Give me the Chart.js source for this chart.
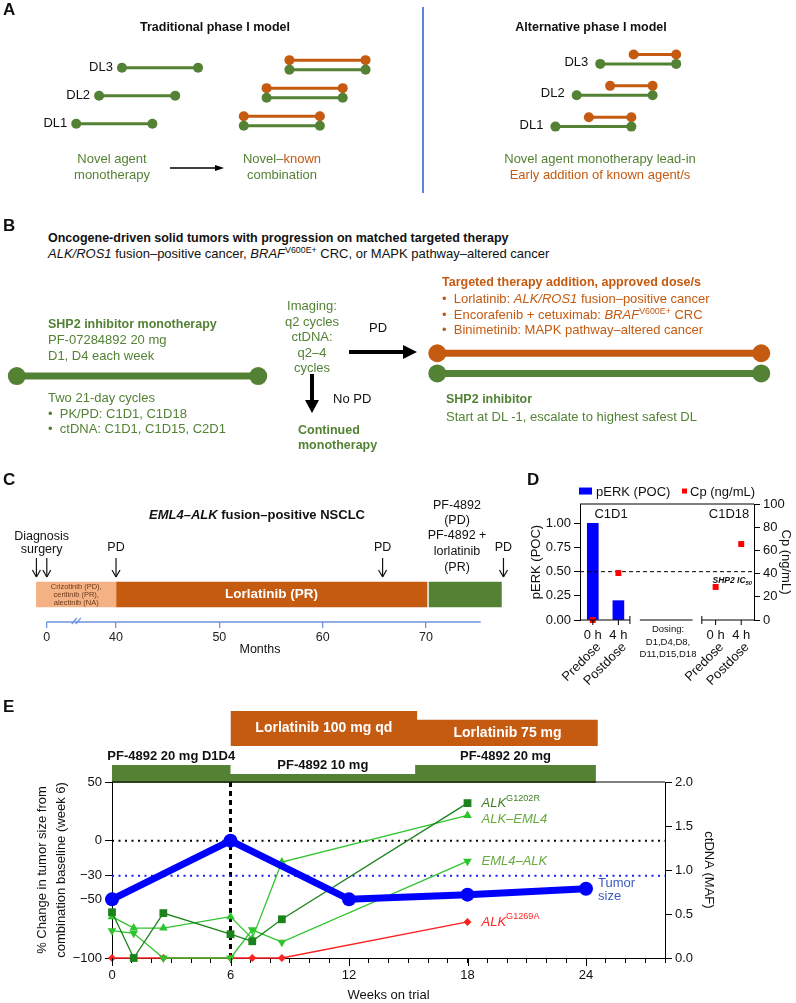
<!DOCTYPE html>
<html>
<head>
<meta charset="utf-8">
<title>SHP2 inhibitor phase I design and case</title>
<script src="https://cdn.jsdelivr.net/npm/chart.js@4.4.1/dist/chart.umd.min.js"></script>
<style>
  body { margin: 0; background: #fff; }
  #page { position: relative; width: 796px; height: 1003px; overflow: hidden; font-family: "Liberation Sans", Arial, sans-serif; color: #111; }
  #page canvas { position: absolute; }
  .t { position: absolute; white-space: nowrap; line-height: 1.15; z-index: 2; }
  .t sup { font-size: 0.68em; vertical-align: 0; position: relative; top: -0.55em; line-height: 0; }
  .t sub { font-size: 0.68em; vertical-align: 0; position: relative; top: 0.3em; line-height: 0; }
</style>
</head>
<body>
<div id="page"></div>
<script>
// ---- A: phase I schematics (x in cycles, y = dose level) ----
const dlLabels = ['DL1', 'DL2', 'DL3'];
const tradMonoStart = [0, 0.3, 0.6];
const tradComboStart = [2.2, 2.5, 2.8];
const altMonoStart = [0, 0.28, 0.59];
const altLeadIn = 0.44;
const cycleSpan = 1;

// ---- B: trial schema (weeks) ----
const monoPhase = [0, 6];
const comboPhase = [10.45, 18.5];

// ---- C: treatment history (months) ----
const histStart = [-6, 40, 70.3];
const histEnd = [40, 70.1, 77.3];
const pdMonths = [40, 65.8, 77.5];
const eventMonths = [-6, 0].concat(pdMonths);
const monthTicks = [0, 40, 50, 60, 70];
const monthAxisEnd = 75.3;

// ---- D: PK / PD ----
const pdTimes = ['0 h', '4 h', '0 h', '4 h'];
const pdDose = ['Predose', 'Postdose', 'Predose', 'Postdose'];
const pdSlots = [0, 1, 4.8, 5.8];
const perk = [1.0, 0.2, null, null];
const cp = [0, 40.5, 28.5, 65.5];
const ic50 = 0.5;

// ---- E: tumour size and ctDNA ----
const tumorWeeks = [0, 6, 12, 18, 24];
const tumorChange = [-50, 0, -50, -46, -41];
const ctWeeks = [0, 1.1, 2.6, 6, 7.1, 8.6, 18];
const g1202r = [0.52, 0.0, 0.51, 0.27, 0.19, 0.44, 1.76];
const alkEml4 = [0.47, 0.34, 0.34, 0.47, 0.22, 1.09, 1.62];
const eml4Alk = [0.31, 0.28, 0.0, 0.0, 0.32, 0.18, 1.10];
const g1269a = [0, 0, 0, 0, 0, 0, 0.41];
const pfStart = [0, 6, 15.35], pfEnd = [6, 15.35, 24.5], pfDose = [20, 10, 20];
const pfLabels = ['PF-4892 20 mg D1D4', 'PF-4892 10 mg', 'PF-4892 20 mg'];
const lorStart = [6, 15.45], lorEnd = [15.45, 24.6], lorDose = [100, 75];
const lorLabels = ['Lorlatinib 100 mg qd', 'Lorlatinib 75 mg'];
const tumorTicks = [50, 0, -30, -50, -100];
const weekLabels = [0, 6, 12, 18, 24];

const FF = '"Liberation Sans", Arial, sans-serif';
const G = '#548235', O = '#c55a11', SALMON = '#f4b183', AXBLUE = '#6f93dc';

Chart.defaults.font.family = FF;
Chart.defaults.font.size = 13;
Chart.defaults.color = '#111';
Chart.defaults.animation = false;
Chart.defaults.responsive = false;
Chart.defaults.events = [];
Chart.defaults.plugins.legend.display = false;
Chart.defaults.plugins.tooltip.enabled = false;

const page = document.getElementById('page');
function mkCanvas(left, top, w, h) {
  const c = document.createElement('canvas');
  c.width = w; c.height = h;
  c.style.left = left + 'px'; c.style.top = top + 'px';
  c.style.width = w + 'px'; c.style.height = h + 'px';
  page.appendChild(c);
  return c;
}
function txt(x, y, html, o = {}) {
  const d = document.createElement('div');
  d.className = 't';
  d.innerHTML = html;
  d.style.left = x + 'px'; d.style.top = y + 'px';
  d.style.fontSize = (o.s || 13) + 'px';
  if (o.b) d.style.fontWeight = 'bold';
  if (o.c) d.style.color = o.c;
  const tx = o.a === 'c' ? '-50%' : o.a === 'r' ? '-100%' : '0';
  d.style.transform = `translate(${tx},-50%)`;
  page.appendChild(d);
}
function line(ctx, x1, y1, x2, y2) {
  ctx.beginPath(); ctx.moveTo(x1, y1); ctx.lineTo(x2, y2); ctx.stroke();
}
function arrow(ctx, x1, y1, x2, y2, lw, hl, hw) {
  const a = Math.atan2(y2 - y1, x2 - x1);
  ctx.save();
  ctx.strokeStyle = '#000'; ctx.fillStyle = '#000'; ctx.lineWidth = lw;
  line(ctx, x1, y1, x2 - hl * 0.8 * Math.cos(a), y2 - hl * 0.8 * Math.sin(a));
  ctx.translate(x2, y2); ctx.rotate(a);
  ctx.beginPath(); ctx.moveTo(0, 0); ctx.lineTo(-hl, -hw / 2); ctx.lineTo(-hl, hw / 2); ctx.closePath(); ctx.fill();
  ctx.restore();
}
function rich(ctx, x, y, parts, size, color) {
  ctx.save();
  ctx.fillStyle = color; ctx.textBaseline = 'middle'; ctx.textAlign = 'left';
  for (const p of parts) {
    const fs = p.sup ? size * 0.7 : size;
    ctx.font = `${p.i ? 'italic ' : ''}${fs}px ${FF}`;
    ctx.fillText(p.t, x, p.sup ? y - size * 0.38 : y);
    x += ctx.measureText(p.t).width;
  }
  ctx.restore();
}
const bell = (x0, x1, y, color, r, w) => ({
  data: [{ x: x0, y }, { x: x1, y }], showLine: true, borderColor: color, backgroundColor: color,
  borderWidth: w, pointRadius: r, pointBorderWidth: 0, clip: false
});
const hidden = (min, max) => ({ type: 'linear', display: false, offset: false, min, max });

// ================= A =================
new Chart(mkCanvas(0, 0, 418, 200), {
  type: 'scatter',
  data: { datasets: [
    ...tradMonoStart.map((s, i) => bell(s, s + cycleSpan, i + 1, G, 5, 3)),
    ...tradComboStart.map((s, i) => bell(s, s + cycleSpan, i + 0.93, G, 5, 3)),
    ...tradComboStart.map((s, i) => bell(s, s + cycleSpan, i + 1.27, O, 5, 3))
  ] },
  options: { scales: { x: hidden(-0.936, 4.423), y: hidden(-1.542, 5.237) } },
  plugins: [{ id: 'a1', afterDraw(c) {
    const ctx = c.ctx, xs = c.scales.x, ys = c.scales.y;
    ctx.save();
    ctx.fillStyle = '#111'; ctx.font = `13px ${FF}`; ctx.textAlign = 'right'; ctx.textBaseline = 'middle';
    dlLabels.forEach((l, i) => ctx.fillText(l, xs.getPixelForValue(tradMonoStart[i]) - 9, ys.getPixelForValue(i + 1)));
    ctx.restore();
    arrow(ctx, 170, 168, 224, 168, 1.3, 9, 6);
  } }]
});
new Chart(mkCanvas(418, 0, 378, 200), {
  type: 'scatter',
  data: { datasets: [
    ...altMonoStart.map((s, i) => bell(s, s + cycleSpan, i + 1, G, 5, 3)),
    ...altMonoStart.map((s, i) => bell(s + altLeadIn, s + cycleSpan, i + 1.3, O, 5, 3))
  ] },
  options: { scales: { x: hidden(-1.744, 3.102), y: hidden(-1.182, 4.879) } },
  plugins: [{ id: 'a2', afterDraw(c) {
    const ctx = c.ctx, xs = c.scales.x, ys = c.scales.y;
    ctx.save();
    ctx.strokeStyle = '#5b84d6'; ctx.lineWidth = 2;
    line(ctx, 5, 7, 5, 193);
    ctx.fillStyle = '#111'; ctx.font = `13px ${FF}`; ctx.textAlign = 'right'; ctx.textBaseline = 'middle';
    dlLabels.forEach((l, i) => ctx.fillText(l, xs.getPixelForValue(altMonoStart[i]) - 12, ys.getPixelForValue(i + 1.05)));
    ctx.restore();
  } }]
});

// ================= B =================
new Chart(mkCanvas(0, 280, 796, 150), {
  type: 'scatter',
  data: { datasets: [
    bell(monoPhase[0], monoPhase[1], 0, G, 9, 7),
    bell(comboPhase[0], comboPhase[1], 2.6, O, 9, 7),
    bell(comboPhase[0], comboPhase[1], 0.3, G, 9, 7)
  ] },
  options: { scales: { x: hidden(-0.194, 19.14), y: hidden(-5.1, 9.9) } },
  plugins: [{ id: 'b', afterDraw(c) {
    arrow(c.ctx, 349, 72, 417, 72, 4, 14, 14);
    arrow(c.ctx, 312, 94, 312, 133, 4, 13, 14);
  } }]
});

// ================= C =================
const toAxis = m => m < 40 ? 33.3 + m * 6.7 / 40 : m;
const histColors = [SALMON, O, G];
new Chart(mkCanvas(0, 495, 520, 165), {
  type: 'bar',
  data: { labels: ['history'], datasets: histStart.map((s, i) => ({
    data: [[toAxis(s), toAxis(histEnd[i])]], backgroundColor: histColors[i],
    barThickness: 25, grouped: false, borderWidth: 0
  })) },
  options: {
    indexAxis: 'y',
    layout: { padding: { top: 72, left: 0, right: 0, bottom: 0 } },
    scales: {
      x: {
        type: 'linear', min: 28.77, max: 79.1,
        border: { display: false },
        grid: { drawOnChartArea: false, color: AXBLUE, tickLength: 6, lineWidth: 1.3 },
        afterBuildTicks: s => { s.ticks = monthTicks.map(m => ({ value: toAxis(m) })); },
        ticks: { callback: (v, i) => monthTicks[i], font: { size: 12.5 }, color: '#222', padding: 2, maxRotation: 0 },
        title: { display: true, text: 'Months', font: { size: 12.5 }, padding: { top: 0, bottom: 3 } },
        afterFit: s => { s.height = 38; }
      },
      y: { display: false }
    }
  },
  plugins: [{ id: 'c', afterDraw(c) {
    const ctx = c.ctx, xs = c.scales.x, ca = c.chartArea;
    const px = m => xs.getPixelForValue(toAxis(m));
    ctx.save();
    ctx.strokeStyle = AXBLUE; ctx.lineWidth = 1.3;
    line(ctx, px(0), ca.bottom, xs.getPixelForValue(monthAxisEnd), ca.bottom);
    const bx = xs.getPixelForValue(36.3);
    line(ctx, bx - 6, ca.bottom + 2, bx - 1, ca.bottom - 4);
    line(ctx, bx - 2, ca.bottom + 2, bx + 3, ca.bottom - 4);
    ctx.strokeStyle = '#111'; ctx.lineWidth = 1.2;
    eventMonths.forEach(m => {
      const x = px(m);
      line(ctx, x, 63, x, 82); line(ctx, x - 4, 75, x, 82); line(ctx, x + 4, 75, x, 82);
    });
    ctx.fillStyle = '#111'; ctx.font = `12.5px ${FF}`; ctx.textAlign = 'center'; ctx.textBaseline = 'middle';
    pdMonths.forEach(m => ctx.fillText('PD', px(m), 53));
    const dx = (px(eventMonths[0]) + px(eventMonths[1])) / 2;
    ctx.fillText('Diagnosis', dx, 42); ctx.fillText('surgery', dx, 55);
    const by = c.getDatasetMeta(0).data[0].y;
    const sx = (px(histStart[0]) + px(histEnd[0])) / 2;
    ctx.fillStyle = '#6b3a1a'; ctx.font = `7.5px ${FF}`;
    ['Crizotinib (PD),', 'ceritinib (PR),', 'alectinib (NA)'].forEach((t, i) => ctx.fillText(t, sx, by + (i - 1) * 8));
    ctx.fillStyle = '#fff'; ctx.font = `bold 13.5px ${FF}`;
    ctx.fillText('Lorlatinib (PR)', (px(histStart[1]) + px(histEnd[1])) / 2, by);
    ctx.restore();
  } }]
});

// ================= D =================
new Chart(mkCanvas(520, 485, 276, 205), {
  type: 'bar',
  data: { datasets: [
    { type: 'bar', data: pdSlots.map((x, i) => ({ x, y: perk[i] })), backgroundColor: '#0000ff', barThickness: 11, yAxisID: 'y', order: 2 },
    { type: 'line', showLine: false, data: pdSlots.map((x, i) => ({ x, y: cp[i] })), pointStyle: 'rect', pointRadius: 4.2,
      pointBackgroundColor: '#ff0000', pointBorderWidth: 0, yAxisID: 'y1', order: 0, clip: false },
    { type: 'line', data: [{ x: -0.5, y: ic50 }, { x: 6.3, y: ic50 }], borderColor: '#000', borderWidth: 1,
      borderDash: [4, 3], pointRadius: 0, yAxisID: 'y', order: 1 }
  ] },
  options: {
    layout: { padding: { top: 19, bottom: 70, left: 0, right: 0 } },
    scales: {
      x: hidden(-0.5, 6.3),
      y: {
        position: 'left', min: 0, max: 1.2,
        afterBuildTicks: s => { s.ticks = [0, 0.25, 0.5, 0.75, 1].map(v => ({ value: v })); },
        ticks: { callback: v => v.toFixed(2), padding: 3 },
        grid: { drawOnChartArea: false, tickLength: 6, color: '#000' },
        border: { color: '#000' },
        title: { display: true, text: 'pERK (POC)', padding: { top: 9, bottom: 0 } },
        afterFit: s => { s.width = 60; }
      },
      y1: {
        position: 'right', min: 0, max: 100,
        ticks: { stepSize: 20, padding: 3 },
        grid: { drawOnChartArea: false, tickLength: 6, color: '#000' },
        border: { color: '#000' },
        title: { display: true, text: 'Cp (ng/mL)', padding: { top: 3, bottom: 0 } },
        afterFit: s => { s.width = 42; }
      }
    }
  },
  plugins: [{ id: 'd', afterDraw(c) {
    const ctx = c.ctx, xs = c.scales.x, ca = c.chartArea;
    const yb = ca.bottom;
    ctx.save();
    ctx.strokeStyle = '#000'; ctx.lineWidth = 1;
    line(ctx, ca.left, ca.top, ca.right, ca.top);
    [[-0.5, 1.45], [1.84, 3.9], [4.26, 6.3]].forEach(([a, b]) => line(ctx, xs.getPixelForValue(a), yb, xs.getPixelForValue(b), yb));
    [1.45, 4.26].forEach(v => { const x = xs.getPixelForValue(v); line(ctx, x, yb - 4, x, yb + 4); });
    ctx.fillStyle = '#111'; ctx.textBaseline = 'middle';
    pdSlots.forEach((s, i) => {
      const x = xs.getPixelForValue(s);
      line(ctx, x, yb, x, yb + 5);
      ctx.font = `13px ${FF}`; ctx.textAlign = 'center';
      ctx.fillText(pdTimes[i], x, yb + 15);
      ctx.save(); ctx.translate(x + 6, yb + 25); ctx.rotate(-Math.PI / 4);
      ctx.textAlign = 'right'; ctx.fillText(pdDose[i], 0, 0); ctx.restore();
    });
    ctx.restore();
  } }]
});

// ================= E : dosing bars =================
// each dose period becomes a flat top; consecutive periods give the step
function stepPts(starts, ends, doses) {
  const pts = [];
  starts.forEach((s, i) => { pts.push({ x: s, y: doses[i] }, { x: ends[i], y: doses[i] }); });
  return pts;
}
new Chart(mkCanvas(0, 700, 720, 84), {
  type: 'line',
  data: { datasets: [
    { data: stepPts(pfStart, pfEnd, pfDose), fill: { value: 0 }, backgroundColor: G,
      borderColor: 'transparent', borderWidth: 0, pointRadius: 0, tension: 0, yAxisID: 'yp' },
    { data: stepPts(lorStart, lorEnd, lorDose), fill: { value: 0 }, backgroundColor: O,
      borderColor: 'transparent', borderWidth: 0, pointRadius: 0, tension: 0, yAxisID: 'yl' }
  ] },
  options: {
    layout: { padding: { left: 112, right: 55, top: 0, bottom: 0 } },
    scales: { x: hidden(0, 28), yp: hidden(-1.11, 92.2), yl: hidden(-108.6, 131.4) }
  },
  plugins: [{ id: 'dose', afterDraw(c) {
    const ctx = c.ctx, xs = c.scales.x, yp = c.scales.yp, yl = c.scales.yl;
    ctx.save(); ctx.textAlign = 'center'; ctx.textBaseline = 'middle';
    ctx.fillStyle = '#111'; ctx.font = `bold 13px ${FF}`;
    pfLabels.forEach((l, i) => ctx.fillText(l, (xs.getPixelForValue(pfStart[i]) + xs.getPixelForValue(pfEnd[i])) / 2, yp.getPixelForValue(pfDose[i]) - 9));
    ctx.fillStyle = '#fff'; ctx.font = `bold 14px ${FF}`;
    lorLabels.forEach((l, i) => ctx.fillText(l, (xs.getPixelForValue(lorStart[i]) + xs.getPixelForValue(lorEnd[i])) / 2, (yl.getPixelForValue(lorDose[i]) + yl.getPixelForValue(0)) / 2));
    ctx.restore();
  } }]
});

// ================= E : main =================
const pts = (xs, ys) => xs.map((x, i) => ({ x, y: ys[i] }));
const ctSeries = [
  { vals: g1269a, color: '#ff2020', style: 'rectRot', r: 4, rot: 0, order: 5, label: [{ t: 'ALK', i: 1 }, { t: 'G1269A', sup: 1 }], lc: '#ff2020', dy: 0 },
  { vals: eml4Alk, color: '#2ec42e', style: 'triangle', r: 5, rot: 180, order: 4, label: [{ t: 'EML4–ALK', i: 1 }], lc: '#66aa3c', dy: 0 },
  { vals: alkEml4, color: '#2ec42e', style: 'triangle', r: 5, rot: 0, order: 3, label: [{ t: 'ALK–EML4', i: 1 }], lc: '#66aa3c', dy: 4 },
  { vals: g1202r, color: '#1c821c', style: 'rect', r: 5.5, rot: 0, order: 2, label: [{ t: 'ALK', i: 1 }, { t: 'G1202R', sup: 1 }], lc: '#3f7f24', dy: 0 }
];
const refLine = (data, color, width, dash, yAxisID) => ({
  data, borderColor: color, borderWidth: width, borderDash: dash, pointRadius: 0, yAxisID, order: 20, clip: false
});
new Chart(mkCanvas(0, 770, 720, 233), {
  type: 'line',
  data: { datasets: [
    { data: pts(tumorWeeks, tumorChange), borderColor: '#0000ff', backgroundColor: '#0000ff', borderWidth: 7,
      pointRadius: 7, pointBorderWidth: 0, yAxisID: 'y', order: 0, clip: false },
    ...ctSeries.map(s => ({ data: pts(ctWeeks, s.vals), borderColor: s.color, backgroundColor: s.color, borderWidth: 1.3,
      pointStyle: s.style, pointRadius: s.r, pointRotation: s.rot, pointBorderWidth: 0, yAxisID: 'y1', order: s.order, clip: false })),
    refLine([{ x: 0, y: 0 }, { x: 28, y: 0 }], '#000', 2, [2, 4.5], 'y'),
    refLine([{ x: 0, y: -30 }, { x: 28, y: -30 }], '#1a1aff', 2, [2, 4.5], 'y'),
    refLine([{ x: 6, y: -100 }, { x: 6, y: 50 }], '#000', 3, [5, 4], 'y'),
    refLine([{ x: 0, y: 50 }, { x: 28, y: 50 }], '#000', 1, [], 'y')
  ] },
  options: {
    layout: { padding: { top: 12, left: 0, right: 0, bottom: 0 } },
    scales: {
      x: {
        type: 'linear', min: 0, max: 28,
        ticks: { stepSize: 1, autoSkip: false, maxRotation: 0, padding: 5, callback: v => weekLabels.includes(v) ? v : '' },
        grid: { drawOnChartArea: false, tickLength: 5, color: '#000' },
        border: { color: '#000' },
        title: { display: true, text: 'Weeks on trial', padding: { top: 0, bottom: 0 } },
        afterFit: s => { s.height = 45; }
      },
      y: {
        position: 'left', min: -100, max: 50,
        afterBuildTicks: s => { s.ticks = tumorTicks.map(v => ({ value: v })); },
        ticks: { callback: v => v < 0 ? '−' + (-v) : v, padding: 3 },
        grid: { drawOnChartArea: false, tickLength: 7, color: '#000' },
        border: { color: '#000' },
        title: { display: true, text: ['% Change in tumor size from', 'combination baseline (week 6)'],
          font: { size: 13, lineHeight: 1.45 }, padding: { top: 33, bottom: 0 } },
        afterFit: s => { s.width = 112; }
      },
      y1: {
        position: 'right', min: 0, max: 2,
        ticks: { stepSize: 0.5, padding: 3, callback: v => v.toFixed(1) },
        grid: { drawOnChartArea: false, tickLength: 7, color: '#000' },
        border: { color: '#000' },
        title: { display: true, text: 'ctDNA (MAF)', padding: { top: 4, bottom: 0 } },
        afterFit: s => { s.width = 55; }
      }
    }
  },
  plugins: [{ id: 'e', afterDraw(c) {
    const ctx = c.ctx, xs = c.scales.x, ca = c.chartArea;
    // labelled weeks get a longer tick
    ctx.save(); ctx.strokeStyle = '#000'; ctx.lineWidth = 1;
    weekLabels.forEach(w => { const x = Math.round(xs.getPixelForValue(w)) + 0.5; line(ctx, x, ca.bottom, x, ca.bottom + 8); });
    ctx.restore();
    ctSeries.forEach((s, k) => {
      const meta = c.getDatasetMeta(k + 1);
      const p = meta.data[meta.data.length - 1];
      rich(ctx, p.x + 14, p.y + s.dy, s.label, 13, s.lc);
    });
    const tm = c.getDatasetMeta(0).data;
    const last = tm[tm.length - 1];
    rich(ctx, last.x + 12, last.y - 5, [{ t: 'Tumor' }], 13, '#3a5bbf');
    rich(ctx, last.x + 12, last.y + 8, [{ t: 'size' }], 13, '#3a5bbf');
  } }]
});

// ================= text =================
[['A', 10], ['B', 226], ['C', 480], ['E', 707]].forEach(([l, y]) => txt(3, y, l, { s: 17, b: 1 }));
txt(527, 480, 'D', { s: 17, b: 1 });

// A
txt(215, 27, 'Traditional phase I model', { s: 12.5, b: 1, a: 'c' });
txt(591, 27, 'Alternative phase I model', { s: 12.5, b: 1, a: 'c' });
txt(112, 159, 'Novel agent', { c: G, a: 'c' });
txt(112, 175, 'monotherapy', { c: G, a: 'c' });
txt(282, 159, `Novel–<span style="color:${O}">known</span>`, { c: G, a: 'c' });
txt(282, 175, 'combination', { c: G, a: 'c' });
txt(600, 159, 'Novel agent monotherapy lead-in', { c: G, a: 'c' });
txt(600, 175, 'Early addition of known agent/s', { c: O, a: 'c' });

// B
txt(48, 238, 'Oncogene-driven solid tumors with progression on matched targeted therapy', { s: 12.5, b: 1 });
txt(48, 254, '<i>ALK/ROS1</i> fusion–positive cancer, <i>BRAF</i><sup>V600E+</sup> CRC, or MAPK pathway–altered cancer');
txt(48, 324, 'SHP2 inhibitor monotherapy', { s: 12.5, b: 1, c: G });
txt(48, 340, 'PF-07284892 20 mg', { c: G });
txt(48, 356, 'D1, D4 each week', { c: G });
txt(48, 398, 'Two 21-day cycles', { c: G });
txt(48, 414, '•&nbsp; PK/PD: C1D1, C1D18', { c: G });
txt(48, 429, '•&nbsp; ctDNA: C1D1, C1D15, C2D1', { c: G });
['Imaging:', 'q2 cycles', 'ctDNA:', 'q2–4', 'cycles'].forEach((t, i) => txt(312, [306, 322, 337, 353, 368][i], t, { c: G, a: 'c' }));
txt(378, 328, 'PD', { a: 'c' });
txt(333, 399, 'No PD');
txt(298, 430, 'Continued', { s: 12.5, b: 1, c: G });
txt(298, 445, 'monotherapy', { s: 12.5, b: 1, c: G });
txt(442, 282, 'Targeted therapy addition, approved dose/s', { s: 12.5, b: 1, c: O });
txt(442, 299, '•&nbsp; Lorlatinib: <i>ALK/ROS1</i> fusion–positive cancer', { c: O });
txt(442, 315, '•&nbsp; Encorafenib + cetuximab: <i>BRAF</i><sup>V600E+</sup> CRC', { c: O });
txt(442, 330, '•&nbsp; Binimetinib: MAPK pathway–altered cancer', { c: O });
txt(446, 399, 'SHP2 inhibitor', { s: 12.5, b: 1, c: G });
txt(446, 417, 'Start at DL -1, escalate to highest safest DL', { c: G });

// C
txt(257, 515, '<i>EML4–ALK</i> fusion–positive NSCLC', { b: 1, a: 'c' });
['PF-4892', '(PD)', 'PF-4892 +', 'lorlatinib', '(PR)'].forEach((t, i) => txt(457, [505, 520, 535, 551, 567][i], t, { s: 12.5, a: 'c' }));

// D
txt(579, 492, '<span style="display:inline-block;width:13px;height:7px;background:#0000ff;margin-right:4px;vertical-align:1px"></span>pERK (POC)');
txt(682, 492, '<span style="display:inline-block;width:5px;height:5px;background:#ff0000;margin-right:3px;vertical-align:2px"></span>Cp (ng/mL)');
txt(611, 514, 'C1D1', { a: 'c' });
txt(729, 514, 'C1D18', { a: 'c' });
txt(752, 581, '<b><i>SHP2 IC<sub>50</sub></i></b>', { s: 8.5, a: 'r' });
['Dosing:', 'D1,D4,D8,', 'D11,D15,D18'].forEach((t, i) => txt(668, [629, 642, 654][i], t, { s: 9.5, a: 'c' }));
</script>
</body>
</html>
